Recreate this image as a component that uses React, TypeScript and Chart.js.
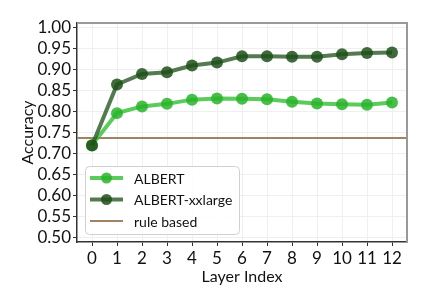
import React, { useEffect, useRef } from "react";
import { Chart, registerables } from "chart.js";

Chart.register(...registerables);

const layers = [0, 1, 2, 3, 4, 5, 6, 7, 8, 9, 10, 11, 12];
const albert = [0.72, 0.796, 0.812, 0.818, 0.828, 0.831, 0.830, 0.829, 0.823, 0.819, 0.817, 0.816, 0.821];
const albertXxlarge = [0.719, 0.864, 0.889, 0.893, 0.909, 0.916, 0.931, 0.931, 0.930, 0.930, 0.936, 0.939, 0.940];
const ruleBased = 0.737;
const xMin = -0.6;
const xMax = 12.6;
const yMin = 0.49;
const yMax = 1.01;

const FONT = "Lato, 'DejaVu Sans', sans-serif";

const lightLine = "rgba(50,190,50,0.8)";
const lightPoint = "rgba(40,180,40,0.85)";
const darkLine = "rgba(40,90,35,0.8)";
const darkPoint = "rgba(30,80,25,0.85)";
const ruleColor = "#a08462";

const framePlugin = {
  id: "frame",
  afterDatasetsDraw(chart: any) {
    const { ctx, chartArea: a } = chart;
    ctx.save();
    ctx.strokeStyle = "#999999";
    ctx.lineWidth = 2;
    ctx.beginPath();
    ctx.moveTo(a.left, a.top);
    ctx.lineTo(a.right, a.top);
    ctx.lineTo(a.right, a.bottom);
    ctx.stroke();
    ctx.restore();
  },
};

const legendPlugin = {
  id: "innerLegend",
  afterDraw(chart: any) {
    const { ctx, chartArea: a } = chart;
    const x0 = a.left + 8;
    const y0 = a.top + 143;
    const w = 154;
    const h = 68;
    ctx.save();
    ctx.fillStyle = "rgba(255,255,255,0.85)";
    ctx.strokeStyle = "#d0d0d0";
    ctx.lineWidth = 1;
    ctx.beginPath();
    ctx.roundRect(x0 + 0.5, y0 + 0.5, w, h, 4);
    ctx.fill();
    ctx.stroke();
    const items = [
      { label: "ALBERT", line: lightLine, point: lightPoint, lw: 4, marker: true },
      { label: "ALBERT-xxlarge", line: darkLine, point: darkPoint, lw: 4, marker: true },
      { label: "rule based", line: ruleColor, point: "", lw: 2, marker: false },
    ];
    items.forEach((it, i) => {
      const y = y0 + 12 + i * 21.5;
      ctx.strokeStyle = it.line;
      ctx.lineWidth = it.lw;
      ctx.beginPath();
      ctx.moveTo(x0 + 5, y);
      ctx.lineTo(x0 + 38, y);
      ctx.stroke();
      if (it.marker) {
        ctx.fillStyle = it.point;
        ctx.beginPath();
        ctx.arc(x0 + 21.5, y, 5.5, 0, Math.PI * 2);
        ctx.fill();
      }
      ctx.fillStyle = "#111";
      ctx.font = `14px ${FONT}`;
      ctx.textBaseline = "middle";
      ctx.textAlign = "left";
      ctx.fillText(it.label, x0 + 49, y + 1);
    });
    ctx.restore();
  },
};

export default function App() {
  const ref = useRef<HTMLCanvasElement | null>(null);
  useEffect(() => {
    if (!ref.current) return;
    const chart = new Chart(ref.current, {
      type: "line",
      data: {
        datasets: [
          {
            label: "ALBERT",
            data: layers.map((l, i) => ({ x: l, y: albert[i] })),
            borderColor: lightLine,
            backgroundColor: lightPoint,
            pointBackgroundColor: lightPoint,
            pointBorderColor: lightPoint,
            borderWidth: 4,
            pointRadius: 6,
            pointBorderWidth: 0,
            order: 2,
          },
          {
            label: "ALBERT-xxlarge",
            data: layers.map((l, i) => ({ x: l, y: albertXxlarge[i] })),
            borderColor: darkLine,
            backgroundColor: darkPoint,
            pointBackgroundColor: darkPoint,
            pointBorderColor: darkPoint,
            borderWidth: 4,
            pointRadius: 6,
            pointBorderWidth: 0,
            order: 1,
          },
          {
            label: "rule based",
            data: [
              { x: xMin, y: ruleBased },
              { x: xMax, y: ruleBased },
            ],
            borderColor: ruleColor,
            borderWidth: 2,
            pointRadius: 0,
            order: 3,
          },
        ],
      },
      options: {
        animation: false,
        responsive: false,
        maintainAspectRatio: false,
        layout: { padding: { left: 18, top: 23, right: 20, bottom: 19 } },
        plugins: { legend: { display: false }, tooltip: { enabled: false } },
        scales: {
          x: {
            type: "linear",
            min: xMin,
            max: xMax,
            afterFit: (s: any) => {
              s.height = 44;
            },
            ticks: {
              stepSize: 1,
              includeBounds: false,
              autoSkip: false,
              maxRotation: 0,
              color: "#111",
              font: { family: FONT, size: 17 },
              padding: 2,
              callback: (v: any) => String(v),
            },
            grid: { color: "#efefef", tickColor: "#333", tickLength: 4, lineWidth: 1 },
            border: { color: "#333", width: 1.5 },
            title: {
              display: true,
              text: "Layer Index",
              color: "#111",
              font: { family: FONT, size: 16 },
              padding: { top: 0, bottom: 0 },
            },
          },
          y: {
            type: "linear",
            min: yMin,
            max: yMax,
            afterFit: (s: any) => {
              s.width = 59;
            },
            ticks: {
              stepSize: 0.05,
              includeBounds: false,
              autoSkip: false,
              color: "#111",
              font: { family: FONT, size: 17 },
              padding: 2,
              callback: (v: any) => Number(v).toFixed(2),
            },
            grid: { color: "#efefef", tickColor: "#333", tickLength: 4, lineWidth: 1 },
            border: { color: "#333", width: 1.5 },
            title: {
              display: true,
              text: "Accuracy",
              color: "#111",
              font: { family: FONT, size: 16 },
              padding: { top: 0, bottom: 0 },
            },
          },
        },
      },
      plugins: [framePlugin, legendPlugin],
    } as any);
    return () => chart.destroy();
  }, []);
  return (
    <div style={{ position: "fixed", left: 0, top: 0, width: 427, height: 305, background: "#fff" }}>
      <canvas ref={ref} width={427} height={305} style={{ width: 427, height: 305, display: "block" }} />
    </div>
  );
}
